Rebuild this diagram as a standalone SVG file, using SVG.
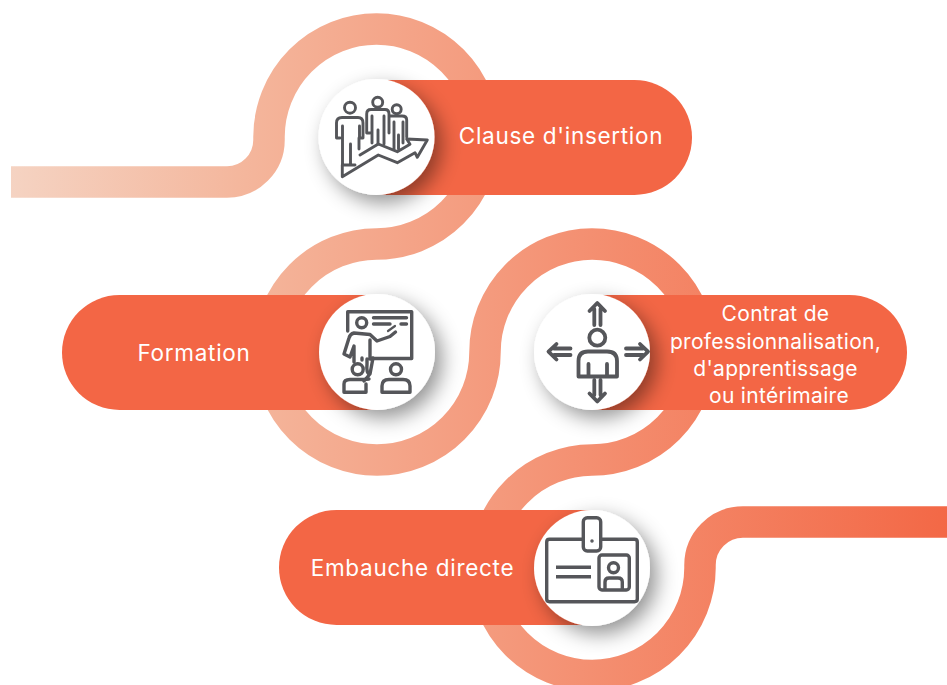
<svg xmlns="http://www.w3.org/2000/svg" width="947" height="685" viewBox="0 0 947 685">
<defs>
<linearGradient id="rib" gradientUnits="userSpaceOnUse" x1="11" y1="0" x2="947" y2="0">
<stop offset="0" stop-color="#f5d3c2"/>
<stop offset="0.25" stop-color="#f4b69c"/>
<stop offset="0.6" stop-color="#f49173"/>
<stop offset="1" stop-color="#f36846"/>
</linearGradient>
<filter id="sh" x="-50%" y="-50%" width="210%" height="210%">
<feDropShadow dx="7" dy="8" stdDeviation="10" flood-color="#000" flood-opacity="0.42"/>
</filter>
</defs>
<style>
.pill{fill:#f36645}
.disc{fill:#fff;filter:url(#sh)}
.ic{fill:none;stroke:#55565a;stroke-width:3.4;stroke-linecap:round;stroke-linejoin:round}
.ict{stroke-width:2.9}
.lb{fill:#fff;font-family:Inter,"Noto Sans",sans-serif;font-size:22.5px;letter-spacing:.7px;text-anchor:middle}
.lm{font-size:21px;letter-spacing:.3px}
</style>
<rect width="947" height="685" fill="#fff"/>
<g id="connectors">
<path fill="none" stroke="url(#rib)" stroke-width="31.5" d="M11,182 H227 A42,42 0 0 0 269,140 V137 A107.5,108 0 0 1 484,137 A107.5,107.5 0 0 1 376.5,244 A108,108 0 0 0 269,352 A108,108 0 0 0 377,460 A108,108 0 0 0 485,352 A107.5,108 0 0 1 592,244 A108,108 0 0 1 700,352 A108,108 0 0 1 592,460 A107.5,108 0 0 0 485,568 A107.5,107.5 0 0 0 592,675.5 A108,108 0 0 0 700,568 V565 A43,43 0 0 1 743,522 H947"/>
</g>
<g id="node-clause">
<rect class="pill" x="330" y="80" width="362" height="115" rx="57.5"/>
<circle class="disc" cx="376.5" cy="137" r="58"/>
<g class="ic ict">
<circle cx="350" cy="107.7" r="5.5"/>
<path d="M340,138 H336.5 V123 Q336.5,117.5 342,117.5 H358 Q363,117.5 363,123 V138 H359.5 V126 M342.5,126 V165 H355 M359,138 V149 M350.5,144 V165"/>
<circle cx="377.7" cy="102.3" r="5"/>
<path d="M370,133 H366.7 V114 Q366.7,109.5 371,109.5 H385 Q389,109.5 389,114 V133 M372,116 V143 M384,116 V144 M378,130 V144"/>
<circle cx="396.7" cy="109.3" r="4.5"/>
<path d="M390,116 H402 Q406.7,116 406.7,120 V137 M394,122 V149 M403,122 V143 M398.5,135 V149"/>
<path d="M342.3,165 V176.7 L378.3,155 L397.3,162.7 L415,152.7 L417.3,157.3 L427.3,140 L406.7,139 L410,144.3 L397.3,151.7 L378.3,144 L360,155"/>
</g>
<text class="lb" x="561" y="144">Clause d'insertion</text>
</g>
<g id="node-formation">
<rect class="pill" x="62" y="295" width="362" height="115" rx="57.5"/>
<circle class="disc" cx="377" cy="352" r="58"/>
<g class="ic">
<path d="M347.7,331 V311.7 H411.7 V358.5 H371"/>
<path d="M373.5,317.7 H406.5 M373.5,324 H390 M401,324 H406.5" />
<circle cx="361.7" cy="322.7" r="5"/>
<path d="M388,331 L395,326" stroke-width="2.2"/>
<path d="M395.5,332 L390,336.5 L377,341 L370,334.5 L354,333 Q350,334 349,338 L344,354 L350,357 L354,346 V362 M370,340 V359 M367,359 V364 Q366,374 370,374 L373,358 M362,358 V360 M370,374 L364,381"/>
<circle cx="357.7" cy="369.3" r="5.5"/>
<path d="M344,392.3 V384 Q344,379.5 350,379.5 H364 L369,379 M344,392.3 H366 V384"/>
<circle cx="396" cy="369.3" r="5.5"/>
<path d="M382,392.3 V386 Q382,379.5 389,379.5 H403 Q410,379.5 410,386 V392.3 Z"/>
</g>
<text class="lb" x="194" y="360.5">Formation</text>
</g>
<g id="node-contrat">
<rect class="pill" x="545" y="295" width="362" height="115" rx="57.5"/>
<circle class="disc" cx="592" cy="352" r="58"/>
<g class="ic" style="stroke-width:3.8">
<circle cx="597.3" cy="337.7" r="8"/>
<path d="M578.5,376.5 V361 Q578.5,351.5 588,351.5 H607 Q617,351.5 617,361 V376.5 Z M588.5,364 V376 M607,364 V376"/>
<path d="M589.5,311 L597.3,303 L605,311 M594.3,309 V325 M600.5,309 V325"/>
<path d="M589.5,393.5 L597.3,401.5 L605,393.5 M594.3,380 V395 M600.5,380 V395"/>
<path d="M556.5,344 L548.5,351.7 L556.5,359.5 M554,348.5 H570.5 M554,355 H570.5"/>
<path d="M640,344 L648,351.7 L640,359.5 M626,348.5 H643 M626,355 H643"/>
</g>
<text class="lb lm" x="775.5" y="321">Contrat de</text>
<text class="lb lm" x="775.5" y="349">professionnalisation,</text>
<text class="lb lm" x="775.5" y="375.5">d'apprentissage</text>
<text class="lb lm" x="779" y="402.5">ou intérimaire</text>
</g>
<g id="node-embauche">
<rect class="pill" x="279" y="510" width="360" height="115" rx="57.5"/>
<circle class="disc" cx="592" cy="568" r="58"/>
<g class="ic">
<path d="M583,539.3 H549.5 Q546.7,539.3 546.7,542 V599 Q546.7,601.7 549.5,601.7 H634.5 Q637.3,601.7 637.3,599 V542 Q637.3,539.3 634.5,539.3 H601"/>
<rect x="583.3" y="517.7" width="17.4" height="33.3" rx="4"/>
<circle cx="592" cy="541" r="1" stroke-width="1.5"/>
<path d="M556,567.3 H591 M556,576.7 H591" stroke-linecap="butt"/>
<rect x="599" y="555" width="30.3" height="35" rx="3"/>
<circle cx="613.5" cy="567.7" r="5"/>
<path d="M605,589 V582 Q605,578 609,578 H618 Q622.3,578 622.3,582 V589"/>
</g>
<text class="lb" x="412.5" y="575.5">Embauche directe</text>
</g>
</svg>
